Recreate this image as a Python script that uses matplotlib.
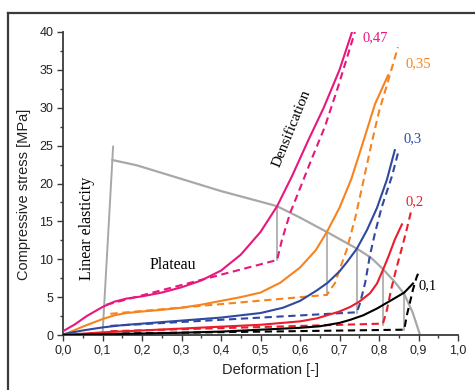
import matplotlib
matplotlib.use("Agg")
import matplotlib.pyplot as plt
from matplotlib.lines import Line2D
from matplotlib.ticker import MultipleLocator, FuncFormatter

# ---------------- data ----------------
pink_x = [0.0, 0.03, 0.06, 0.09, 0.1, 0.13, 0.16, 0.2, 0.25, 0.3, 0.35, 0.4, 0.45, 0.5, 0.542, 0.58, 0.62, 0.66, 0.70, 0.731]
pink_y = [0.5, 1.4, 2.5, 3.4, 3.7, 4.4, 4.8, 5.1, 5.6, 6.3, 7.2, 8.5, 10.6, 13.6, 17.0, 21.0, 25.6, 30.0, 35.0, 39.9]
pink_dx = [0.11, 0.542, 0.554, 0.575, 0.595, 0.63, 0.663, 0.696, 0.739]
pink_dy = [4.0, 9.9, 12.5, 16.1, 18.7, 23.3, 27.5, 32.7, 40.0]

orange_x = [0.0, 0.05, 0.1, 0.13, 0.16, 0.2, 0.245, 0.3, 0.35, 0.4, 0.45, 0.5, 0.55, 0.6, 0.64, 0.668, 0.70, 0.73, 0.76, 0.79, 0.823]
orange_y = [0.0, 1.1, 2.1, 2.6, 2.9, 3.1, 3.3, 3.6, 4.0, 4.5, 5.0, 5.6, 6.9, 8.9, 11.2, 13.6, 16.8, 20.6, 25.5, 30.5, 34.3]
orange_dx = [0.12, 0.668, 0.689, 0.70, 0.718, 0.74, 0.757, 0.78, 0.80, 0.82, 0.848]
orange_dy = [2.8, 5.3, 6.9, 8.6, 11.2, 15.5, 19.5, 25.0, 29.5, 33.0, 38.0]

blue_x = [0.0, 0.05, 0.1, 0.15, 0.2, 0.25, 0.3, 0.35, 0.4, 0.45, 0.5, 0.557, 0.6, 0.643, 0.67, 0.7, 0.72, 0.744, 0.77, 0.795, 0.82, 0.84]
blue_y = [0.1, 0.6, 1.0, 1.3, 1.5, 1.7, 1.9, 2.1, 2.3, 2.6, 2.9, 3.6, 4.5, 5.9, 6.9, 8.4, 9.7, 11.4, 13.9, 16.8, 20.5, 24.4]
blue_dx = [0.12, 0.744, 0.752, 0.765, 0.777, 0.79, 0.807, 0.833, 0.848]
blue_dy = [1.2, 3.0, 4.2, 6.9, 10.5, 13.5, 16.9, 21.0, 24.0]

red_x = [0.0, 0.1, 0.2, 0.3, 0.4, 0.5, 0.6, 0.643, 0.7, 0.727, 0.75, 0.777, 0.795, 0.81, 0.825, 0.84, 0.858]
red_y = [0.0, 0.35, 0.6, 0.85, 1.1, 1.35, 1.8, 2.2, 3.1, 3.7, 4.4, 5.5, 6.8, 8.6, 10.5, 12.6, 14.6]
red_dx = [0.12, 0.81, 0.82, 0.832, 0.845, 0.858, 0.87, 0.882]
red_dy = [0.5, 1.5, 3.3, 6.3, 9.0, 11.5, 13.9, 16.5]

black_x = [0.0, 0.1, 0.2, 0.3, 0.4, 0.5, 0.6, 0.65, 0.7, 0.727, 0.76, 0.795, 0.828, 0.864, 0.886]
black_y = [0.0, 0.1, 0.2, 0.3, 0.45, 0.7, 0.95, 1.15, 1.6, 2.0, 2.6, 3.5, 4.5, 5.6, 6.8]
black_dx = [0.15, 0.864, 0.87, 0.877, 0.886, 0.895, 0.902]
black_dy = [0.2, 0.7, 2.5, 4.0, 6.0, 7.6, 8.5]

# grey envelope (linear elasticity line + plateau/densification boundary)
elastic_x = [0.1, 0.127]
elastic_y = [0.0, 25.0]
env_x = [0.125, 0.187, 0.3, 0.4, 0.5, 0.542, 0.6, 0.668, 0.744, 0.78, 0.81, 0.84, 0.864, 0.885, 0.904]
env_y = [23.1, 22.4, 20.6, 19.0, 17.6, 17.0, 15.5, 13.6, 11.4, 10.2, 8.7, 7.0, 5.4, 3.0, 0.0]
# vertical drop lines: x, top, bottom
drop_x = [0.542, 0.668, 0.744, 0.81, 0.864]
drop_top = [17.0, 13.6, 11.4, 8.7, 5.4]
drop_bot = [9.9, 5.3, 2.9, 1.3, 0.66]

series_labels = ["0,47", "0,35", "0,3", "0,2", "0,1"]
label_x = [0.757, 0.866, 0.861, 0.866, 0.901]
label_y = [39.3, 35.8, 25.9, 17.6, 6.5]

# ---------------- styling ----------------
PINK = "#e8177d"
ORANGE = "#f7831f"
BLUE = "#3049a0"
RED = "#ec1c2a"
BLACK = "#000000"
GREY = "#a8a8a8"
SERIF = ["Liberation Serif", "DejaVu Serif"]
SANS = ["Liberation Sans", "DejaVu Sans"]

fig = plt.figure(figsize=(4.75, 3.9), dpi=100)
ax = fig.add_axes([63 / 475, 1 - 335 / 390, 395 / 475, 303 / 390])

lw = 1.5
dash = (3.5, 2.2)

series = [
    (pink_x, pink_y, pink_dx, pink_dy, PINK),
    (orange_x, orange_y, orange_dx, orange_dy, ORANGE),
    (blue_x, blue_y, blue_dx, blue_dy, BLUE),
    (red_x, red_y, red_dx, red_dy, RED),
    (black_x, black_y, black_dx, black_dy, BLACK),
]

# grey structure
ax.plot(elastic_x, elastic_y, color=GREY, lw=1.4, zorder=2, solid_capstyle="butt")
ax.plot(env_x, env_y, color=GREY, lw=1.6, zorder=2)
for xx, t, b in zip(drop_x, drop_top, drop_bot):
    ax.plot([xx, xx], [b, t], color=GREY, lw=1.2, zorder=2)

for sx, sy, dx, dy, c in series:
    ax.plot(dx, dy, color=c, lw=lw, dashes=dash, zorder=3)
    ax.plot(sx, sy, color=c, lw=lw, zorder=4, solid_joinstyle="round")

for t, lx, ly, (_, _, _, _, c) in zip(series_labels, label_x, label_y, series):
    ax.text(lx, ly, t, color=c, fontsize=10.5, family=SERIF, ha="left", va="center")

ax.text(0.061, 14.1, "Linear elasticity", rotation=90, fontsize=11.5, family=SERIF,
        ha="center", va="center")
ax.text(0.278, 9.2, "Plateau", fontsize=11.5, family=SERIF, ha="center", va="center")
ax.text(0.58, 27.3, "Densification", rotation=68, fontsize=11, family=SERIF,
        ha="center", va="center")

ax.set_xlim(0, 1.0)
ax.set_ylim(0, 40)
ax.xaxis.set_major_locator(MultipleLocator(0.1))
ax.xaxis.set_minor_locator(MultipleLocator(0.05))
ax.yaxis.set_major_locator(MultipleLocator(5))
ax.yaxis.set_minor_locator(MultipleLocator(2.5))
ax.xaxis.set_major_formatter(FuncFormatter(lambda v, p: f"{v:.1f}".replace(".", ",")))
ax.yaxis.set_major_formatter(FuncFormatter(lambda v, p: f"{v:.0f}"))

for s in ["top", "right"]:
    ax.spines[s].set_visible(False)
for s in ["left", "bottom"]:
    ax.spines[s].set_color("#3a3a3a")
    ax.spines[s].set_linewidth(1.3)

ax.tick_params(which="both", direction="out", color="#3a3a3a", width=1.0)
ax.tick_params(which="major", length=4, labelsize=9, pad=3, labelcolor="#222222")
ax.tick_params(which="minor", length=2.5)
for lab in ax.get_xticklabels() + ax.get_yticklabels():
    lab.set_family(SANS)

fig.text(24 / 475, 1 - 194 / 390, "Compressive stress [MPa]", rotation=90,
         fontsize=10.5, family=SANS, ha="center", va="center", color="#222222")
fig.text(270 / 475, 1 - 370 / 390, "Deformation [-]", fontsize=10.5, family=SANS,
         ha="center", va="center", color="#222222")

# outer frame (left and top edges visible)
fig.add_artist(Line2D([8 / 475, 8 / 475], [0, 1 - 13 / 390], transform=fig.transFigure,
                      color="#3a3a3a", lw=1.6))
fig.add_artist(Line2D([8 / 475, 1], [1 - 13 / 390, 1 - 13 / 390], transform=fig.transFigure,
                      color="#3a3a3a", lw=1.6))

fig.savefig("out.png", dpi=100)
